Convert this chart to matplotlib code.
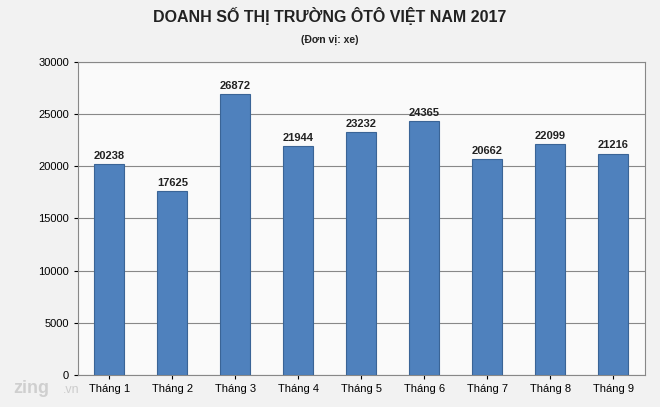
import matplotlib
matplotlib.use("Agg")
import matplotlib.pyplot as plt

months = ["Tháng 1","Tháng 2","Tháng 3","Tháng 4","Tháng 5","Tháng 6","Tháng 7","Tháng 8","Tháng 9"]
sales = [20238,17625,26872,21944,23232,24365,20662,22099,21216]
yticks = [0,5000,10000,15000,20000,25000,30000]

plt.rcParams['font.family'] = ['Liberation Sans','DejaVu Sans']
fig = plt.figure(figsize=(6.6,4.07), dpi=100, facecolor='#f2f2f2')
ax = fig.add_axes([0.118,0.079,0.859,0.769])
ax.set_facecolor('#fafafa')
x = range(len(months))
ax.bar(x, sales, width=0.48, color='#4f81bd', edgecolor='#3a6496', linewidth=0.8, zorder=3)
for i,v in zip(x,sales):
    ax.text(i, v+300, str(v), ha='center', va='bottom', fontsize=8, fontweight='bold', color='#222')
ax.set_ylim(0,30000)
ax.set_xlim(-0.5,len(months)-0.5)
ax.set_yticks(yticks)
ax.set_yticklabels([str(t) for t in yticks], fontsize=8)
ax.set_xticks(list(x))
ax.set_xticklabels(months, fontsize=8)
ax.grid(axis='y', color='#888', linewidth=0.8, zorder=0)
ax.tick_params(length=3)
for s in ax.spines.values():
    s.set_color('#888')
fig.text(0.5,0.945,"DOANH SỐ THỊ TRƯỜNG ÔTÔ VIỆT NAM 2017", ha='center', fontsize=11.5, fontweight='bold', color='#222')
fig.text(0.5,0.895,"(Đơn vị: xe)", ha='center', fontsize=7.5, fontweight='bold', color='#222')
fig.text(0.02,0.035,"zing", fontsize=13, fontweight='bold', color='#cccccc', alpha=0.9)
fig.text(0.095,0.035,".vn", fontsize=9, color='#cccccc')
fig.savefig("out.png", dpi=100, facecolor=fig.get_facecolor())
